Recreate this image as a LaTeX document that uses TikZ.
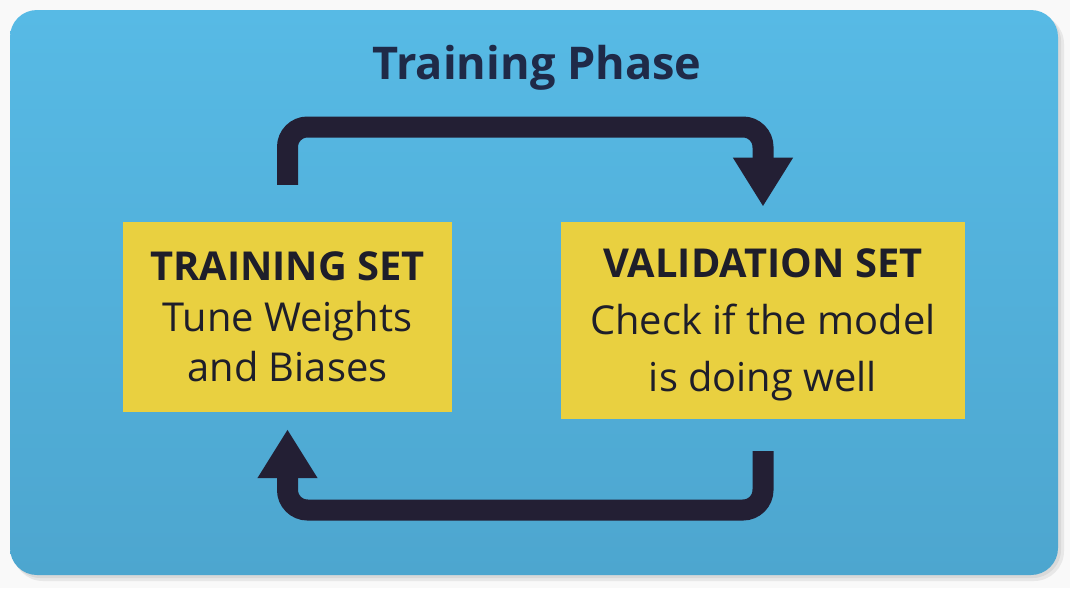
\documentclass[tikz,border=0pt]{standalone}
\usepackage{fontspec}
\setmainfont{Open Sans}
\usepackage{tikz}
\usetikzlibrary{arrows.meta,positioning,calc}
\definecolor{panelTop}{RGB}{87,186,229}
\definecolor{panelBot}{RGB}{77,166,207}
\definecolor{setYellow}{RGB}{233,208,64}
\definecolor{loopInk}{RGB}{35,31,52}
\definecolor{titleInk}{RGB}{31,42,72}
\definecolor{textInk}{RGB}{30,30,42}
\tikzset{
  setbox/.style={fill=setYellow,inner sep=0pt,align=center,text=textInk},
  phase/.style={font=\fontsize{38.5}{46}\selectfont\bfseries,text=titleInk,anchor=base},
  cyc/.style={draw=loopInk,line width=0.63cm,rounded corners=0.6cm,
              -{Triangle[width=1.7cm,length=1.47cm]}},
}
\begin{document}
\begin{tikzpicture}[x=0.03cm,y=-0.03cm,node distance=0.6cm and 3.27cm]
  \useasboundingbox (0,0) rectangle (1070,588);
  \fill[gray!5] (0,0) rectangle (1070,588);
  % panel with soft shadow
  \fill[gray!18,rounded corners=0.9cm] (13,14) rectangle (1064,581);
  \fill[gray!30,rounded corners=0.85cm] (12,13) rectangle (1061,578);
  \shade[top color=panelTop,bottom color=panelBot,rounded corners=0.81cm]
    (10,10) rectangle (1058,575);

  \node[phase] (title) at (537,79) {Training Phase};

  \node[setbox,minimum width=9.87cm,minimum height=5.7cm,
        font=\fontsize{34}{43}\selectfont] (lb) at (287.5,317)
    {\textbf{TRAINING SET}\\Tune Weights\\and Biases};
  \node[setbox,minimum width=12.09cm,minimum height=5.91cm,
        font=\fontsize{34}{48.5}\selectfont,right=3.27cm of lb,yshift=-0.1cm] (vb)
    {\rule{0pt}{1.14cm}\textbf{VALIDATION SET}\\Check if the model\\is doing well};

  \coordinate (top) at (0,127);
  \coordinate (bot) at (0,510);

  \draw[cyc] ([yshift=1.11cm]lb.north) -- (lb.north |- top)
    -- (vb.north |- top) -- ([yshift=0.45cm]vb.north);
  \draw[cyc] ([yshift=-0.96cm]vb.south) -- (vb.south |- bot)
    -- (lb.south |- bot) -- ([yshift=-0.51cm]lb.south);
\end{tikzpicture}
\end{document}
